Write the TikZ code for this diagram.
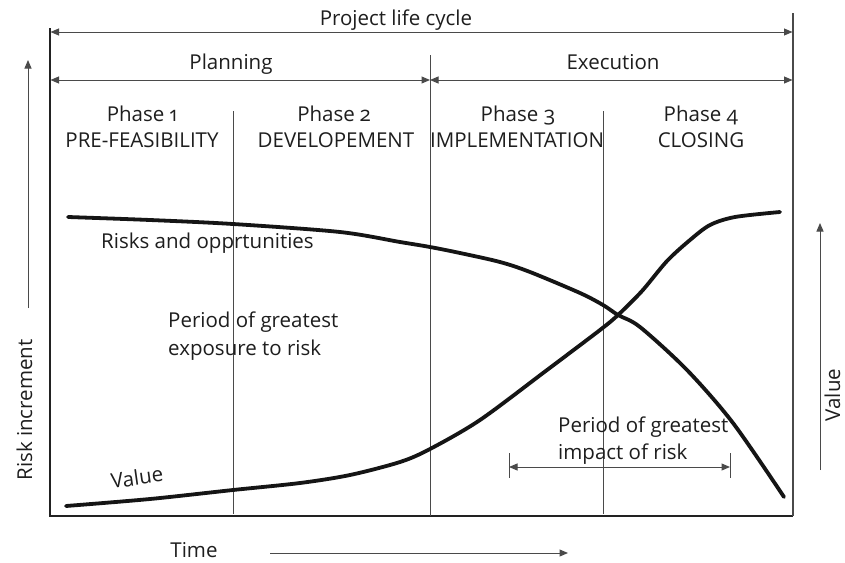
\documentclass[tikz,border=0pt]{standalone}
\usepackage{fontspec}
\setmainfont{Open Sans}[Numbers=OldStyle]
\usetikzlibrary{arrows.meta}
\definecolor{textcol}{HTML}{1E1E1E}
\definecolor{linegray}{HTML}{4A4A4A}
\definecolor{framecol}{HTML}{222222}
\definecolor{curvecol}{HTML}{151515}
\newcommand{\lblfont}{\fontsize{20.5}{24}\selectfont}
\begin{document}
\begin{tikzpicture}[x=1pt,y=-1pt,
  thinln/.style={draw=linegray, line width=1pt},
  frameln/.style={draw=framecol, line width=1.7pt},
  rframe/.style={draw=linegray, line width=1.2pt},
  curveln/.style={draw=curvecol, line width=3.8pt, line cap=round, line join=round},
  dbl/.style={thinln, {Triangle[length=8.5pt,width=7pt]}-{Triangle[length=8.5pt,width=7pt]}},
  single/.style={thinln, -{Triangle[length=8.5pt,width=7pt]}},
  lbl/.style={text=textcol, inner sep=0pt, font=\lblfont, anchor=base},
]
\useasboundingbox (0,0) rectangle (845,562);
\fill[white] (0,0) rectangle (845,562);

% frame coordinates
\coordinate (ltop) at (50,28);
\coordinate (lbot) at (50,516);
\coordinate (rtop) at (793,13);
\coordinate (rbot) at (793,516);
\coordinate (mtop) at (430,55);
\coordinate (mbot) at (430,516);
\coordinate (d1top) at (233,111);
\coordinate (d1bot) at (233,514);
\coordinate (d3top) at (603,111);
\coordinate (d3bot) at (603,514);

\draw[frameln] (ltop) -- (lbot) -- (rbot);
\draw[rframe] (rbot) -- (rtop);
\draw[thinln] (mtop) -- (mbot);
\draw[thinln] (d1top) -- (d1bot);
\draw[thinln] (d3top) -- (d3bot);

% top arrows
\coordinate (plcL) at (50.5,32);
\coordinate (plcR) at (792.5,32);
\coordinate (plaL) at (50.5,80);
\coordinate (plaR) at (430,80);
\coordinate (exeL) at (430,80);
\coordinate (exeR) at (792.5,80);
\draw[dbl] (plcL) -- (plcR);
\draw[dbl] (plaL) -- (plaR);
\draw[dbl] (exeL) -- (exeR);

\node[lbl] (plc) at (396,25) {Project life cycle};
\node[lbl] (plan) at (231,69) {Planning};
\node[lbl] (exec) at (613,69) {Execution};

% phase labels
\node[lbl] (p1) at (142,121) {Phase 1};
\node[lbl] (p1b) at (142,147) {PRE-FEASIBILITY};
\node[lbl] (p2) at (334,121) {Phase 2};
\node[lbl] (p2b) at (336,147) {DEVELOPEMENT};
\node[lbl] (p3) at (518,121) {Phase 3};
\node[lbl] (p3b) at (517,147) {IMPLEMENTATION};
\node[lbl] (p4) at (701,121) {Phase 4};
\node[lbl] (p4b) at (701,147) {CLOSING};

% curves
\draw[curveln] plot[smooth, tension=0.5] coordinates {
  (68,217) (150,220) (233,224) (340,232) (400,242) (430,247) (460,253)
  (500,262) (530,272) (580,293) (603,305) (618,315) (640,327) (687,370)
  (733,423) (784,497)};
\draw[curveln] plot[smooth, tension=0.5] coordinates {
  (66,506) (150,499) (233,490) (300,483) (350,475) (400,462) (430,449)
  (480,420) (547,370) (600,330) (618,315) (642,291) (667,261) (690,240)
  (710,225) (735,217) (780,212)};

\node[lbl, anchor=base west] (risks) at (101,248) {Risks and opprtunities};
\node[lbl, anchor=base west] (pg1) at (168,327) {Period of greatest};
\node[lbl, anchor=base west] (pg1b) at (168,355) {exposure to risk};
\node[lbl, anchor=base west] (pg2) at (558,432) {Period of greatest};
\node[lbl, anchor=base west] (pg2b) at (558,459) {impact of risk};
\node[lbl, rotate=8] (val) at (138,485) {Value};

% impact arrow
\coordinate (impL) at (509,467);
\coordinate (impR) at (730,467);
\coordinate (tickLt) at (509,453);
\coordinate (tickLb) at (509,478);
\coordinate (tickRt) at (730,453);
\coordinate (tickRb) at (730,478);
\draw[thinln] (tickLt) -- (tickLb);
\draw[thinln] (tickRt) -- (tickRb);
\draw[dbl] (impL) -- (impR);

% time
\node[lbl] (time) at (194,557) {Time};
\coordinate (timeL) at (270,553);
\coordinate (timeR) at (568,553);
\draw[single] (timeL) -- (timeR);

% left axis
\coordinate (laxB) at (28,308);
\coordinate (laxT) at (28,60);
\draw[single] (laxB) -- (laxT);
\node[lbl, rotate=90] (riskinc) at (32,410) {Risk increment};

% right axis
\coordinate (raxB) at (820,470);
\coordinate (raxT) at (820,223);
\draw[single] (raxB) -- (raxT);
\node[lbl, rotate=90] (valax) at (840,395) {Value};
\end{tikzpicture}
\end{document}
